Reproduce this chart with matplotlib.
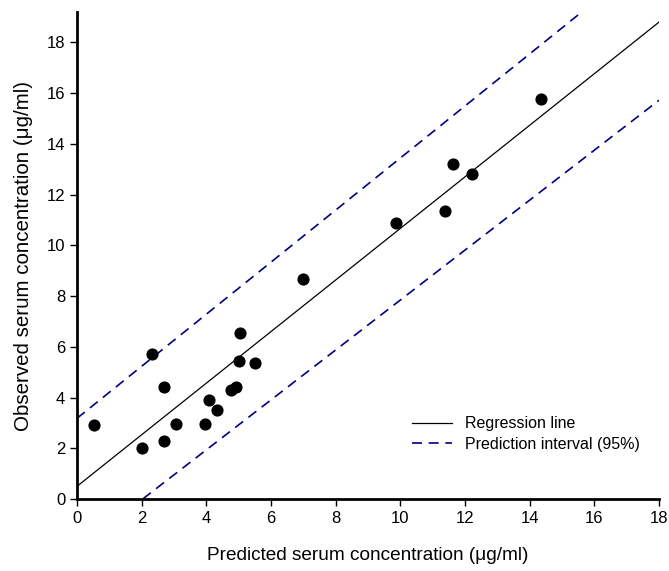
import matplotlib
matplotlib.use('Agg')
from matplotlib import pyplot as plt

plt.rcParams['font.family'] = ['Liberation Sans', 'DejaVu Sans']

# observed vs predicted serum concentrations (ug/ml)
predicted = [0.52, 2.0, 2.32, 2.68, 2.69, 3.05, 3.95, 4.09, 4.33, 4.77,
             4.92, 5.0, 5.04, 5.5, 7.0, 9.87, 11.38, 11.64, 12.21, 14.36]
observed = [2.9, 2.0, 5.72, 4.41, 2.29, 2.97, 2.97, 3.9, 3.53, 4.28,
            4.4, 5.45, 6.55, 5.37, 8.68, 10.88, 11.34, 13.22, 12.82, 15.78]

# line end points
line_x = [0, 18]
reg_y = [0.5, 18.8]
upper_y = [3.18, 21.65]
lower_y = [-2.0, 15.72]

fig = plt.figure(figsize=(6.69, 5.71), dpi=100)
ax = fig.add_axes([0.115, 0.126, 0.87, 0.853])

ax.plot(line_x, reg_y, color='black', lw=0.9, label='Regression line')
ax.plot(line_x, upper_y, color='#000080', lw=1.2, ls=(0, (6, 4)),
        label='Prediction interval (95%)')
ax.plot(line_x, lower_y, color='#000080', lw=1.2, ls=(0, (6, 4)))
ax.scatter(predicted, observed, s=60, color='black', zorder=3)

ax.set_xlim(0, 18)
ax.set_ylim(0, 19.2)
ax.set_xticks(range(0, 19, 2))
ax.set_yticks(range(0, 19, 2))
ax.spines['top'].set_visible(False)
ax.spines['right'].set_visible(False)
ax.spines['left'].set_linewidth(2)
ax.spines['bottom'].set_linewidth(2)
ax.tick_params(direction='out', length=5, width=1, labelsize=12)

ax.set_xlabel('Predicted serum concentration (μg/ml)', fontsize=13.7, labelpad=15)
ax.set_ylabel('Observed serum concentration (μg/ml)', fontsize=14.8, labelpad=10)

ax.legend(loc='lower right', bbox_to_anchor=(0.992, 0.067), frameon=False,
          fontsize=11.5, handlelength=2.5, labelspacing=0.35)

plt.savefig('out.png')
